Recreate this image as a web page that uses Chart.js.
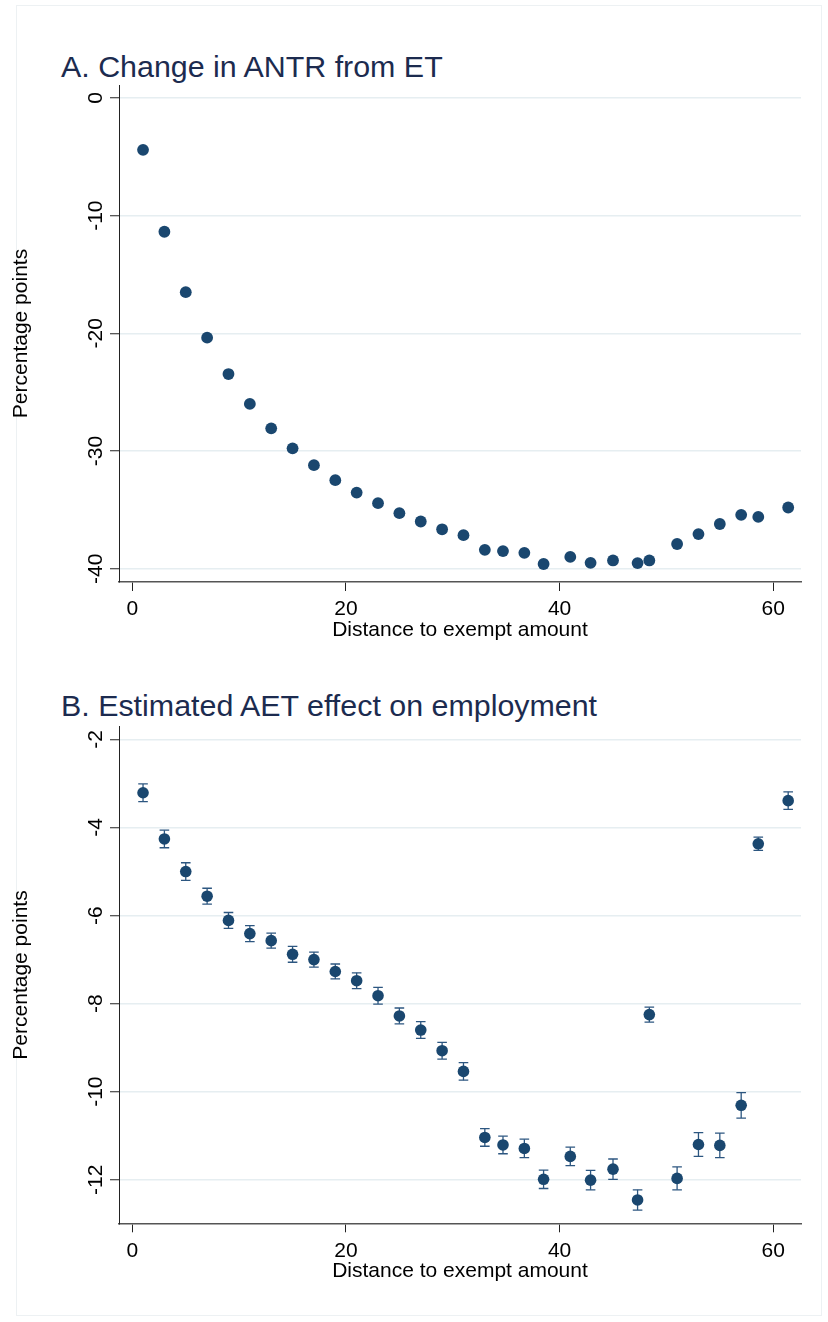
<!DOCTYPE html>
<html><head><meta charset="utf-8">
<script src="https://cdn.jsdelivr.net/npm/chart.js@4.4.0/dist/chart.umd.min.js"></script>
<style>
html,body{margin:0;padding:0;background:#fff;}
body{width:828px;height:1322px;position:relative;overflow:hidden;font-family:"Liberation Sans",Arial,sans-serif;}
.frame{position:absolute;left:16px;top:5px;width:806px;height:1311px;border:1px solid #edf1f3;box-sizing:border-box;}
.ttl{position:absolute;left:61px;font-size:30.4px;line-height:30px;color:#1c2b4f;white-space:nowrap;}
canvas{position:absolute;left:0;}
</style></head><body>
<div class="frame"></div>
<div class="ttl" style="top:51px">A. Change in ANTR from ET</div>
<div class="ttl" style="top:690px">B. Estimated AET effect on employment</div>
<canvas id="cA" width="828" height="660" style="top:0"></canvas>
<canvas id="cB" width="828" height="662" style="top:660px"></canvas>
<script>
// ---- data ----
const distance = [1,3,5,7,9,11,13,15,17,19,21,23,25,27,29,31,33,34.7,36.7,38.5,41,42.9,45,47.3,48.4,51,53,55,57,58.6,61.4];
const antrChange = [-4.41,-11.37,-16.5,-20.37,-23.46,-26.0,-28.07,-29.77,-31.2,-32.48,-33.53,-34.43,-35.28,-35.99,-36.65,-37.15,-38.4,-38.5,-38.65,-39.6,-39.0,-39.5,-39.3,-39.52,-39.3,-37.9,-37.06,-36.2,-35.42,-35.6,-34.8];
const aetEffect = [-3.21,-4.26,-5.00,-5.56,-6.11,-6.41,-6.57,-6.88,-7.00,-7.27,-7.48,-7.82,-8.28,-8.60,-9.07,-9.54,-11.04,-11.21,-11.29,-11.99,-11.47,-12.01,-11.76,-12.46,-8.25,-11.97,-11.20,-11.22,-10.31,-4.37,-3.39];
const aetCI = [0.20,0.20,0.20,0.18,0.18,0.18,0.17,0.18,0.17,0.17,0.18,0.19,0.18,0.19,0.19,0.20,0.20,0.20,0.21,0.21,0.21,0.22,0.23,0.23,0.17,0.26,0.27,0.28,0.29,0.15,0.20];
const xTicks = [0,20,40,60];
const yTicksA = [0,-10,-20,-30,-40];
const yTicksB = [-2,-4,-6,-8,-10,-12];
const xTitle = 'Distance to exempt amount';
const yTitle = 'Percentage points';

const NAVY = '#1a476f';
const FONT = '"Liberation Sans", Arial, sans-serif';

const rotatedYLabels = {
  id: 'rotatedYLabels',
  afterDraw(chart) {
    const s = chart.scales.y;
    const ctx = chart.ctx;
    ctx.save();
    ctx.font = '21px ' + FONT;
    ctx.fillStyle = '#000';
    ctx.textAlign = 'center';
    ctx.textBaseline = 'alphabetic';
    s.ticks.forEach(t => {
      const y = s.getPixelForValue(t.value);
      ctx.save();
      ctx.translate(s.right - 17, y);
      ctx.rotate(-Math.PI / 2);
      ctx.fillText(String(t.value), 0, 0);
      ctx.restore();
    });
    ctx.restore();
  }
};

function makeOptions(yMin, yMax, yTicks, padTop, padBottom) {
  return {
    responsive: false,
    animation: false,
    devicePixelRatio: 1,
    events: [],
    layout: { padding: { left: 9, right: 27, top: padTop, bottom: padBottom } },
    plugins: { legend: { display: false }, tooltip: { enabled: false }, title: { display: false } },
    scales: {
      x: {
        type: 'linear', min: -1.25, max: 62.6,
        afterBuildTicks: s => { s.ticks = xTicks.map(v => ({ value: v })); },
        afterFit: s => { s.height = 61; },
        ticks: { font: { size: 21, family: FONT }, color: '#000', padding: 6, maxRotation: 0, autoSkip: false },
        grid: { display: true, drawOnChartArea: false, drawTicks: true, tickLength: 9, tickColor: '#222', tickWidth: 1 },
        border: { display: true, color: '#555', width: 1.5 },
        title: { display: true, text: xTitle, font: { size: 21, family: FONT }, color: '#000', padding: { top: 0, bottom: 0 } }
      },
      y: {
        type: 'linear', min: yMin, max: yMax,
        afterBuildTicks: s => { s.ticks = yTicks.map(v => ({ value: v })); },
        afterFit: s => { s.width = 110; },
        ticks: { display: false },
        grid: { display: true, drawOnChartArea: true, drawTicks: true, tickLength: 9, color: '#e6eef1', lineWidth: 1.5, tickColor: '#222', tickWidth: 1 },
        border: { display: true, color: '#222', width: 1 },
        title: { display: true, text: yTitle, font: { size: 21, family: FONT }, color: '#000', padding: { top: 0, bottom: 0 } }
      }
    }
  };
}

// Panel A
new Chart(document.getElementById('cA'), {
  type: 'scatter',
  data: { datasets: [{
    data: distance.map((x, i) => ({ x, y: antrChange[i] })),
    backgroundColor: NAVY, borderWidth: 0, pointRadius: 5.9, pointHoverRadius: 5.9
  }] },
  options: makeOptions(-41.13, 1.1, yTicksA, 85, 17),
  plugins: [rotatedYLabels]
});

// Panel B
const ciSegments = [];
distance.forEach((x, i) => {
  ciSegments.push({ x, y: aetEffect[i] - aetCI[i] });
  ciSegments.push({ x, y: aetEffect[i] + aetCI[i] });
  ciSegments.push({ x, y: null });
});
new Chart(document.getElementById('cB'), {
  type: 'scatter',
  data: { datasets: [
    {
      data: distance.map((x, i) => ({ x, y: aetEffect[i] })),
      backgroundColor: NAVY, borderWidth: 0, pointRadius: 5.8, pointHoverRadius: 5.8
    },
    {
      type: 'line', data: ciSegments, showLine: true, spanGaps: false,
      borderColor: '#2c5680', borderWidth: 1.3, fill: false,
      pointStyle: 'line', pointRadius: 4.8, pointHoverRadius: 4.8,
      pointBorderColor: '#2c5680', pointBorderWidth: 1.3, pointBackgroundColor: '#2c5680'
    }
  ] },
  options: makeOptions(-12.99, -1.71, yTicksB, 66.7, 37.7),
  plugins: [rotatedYLabels]
});
</script>
</body></html>
